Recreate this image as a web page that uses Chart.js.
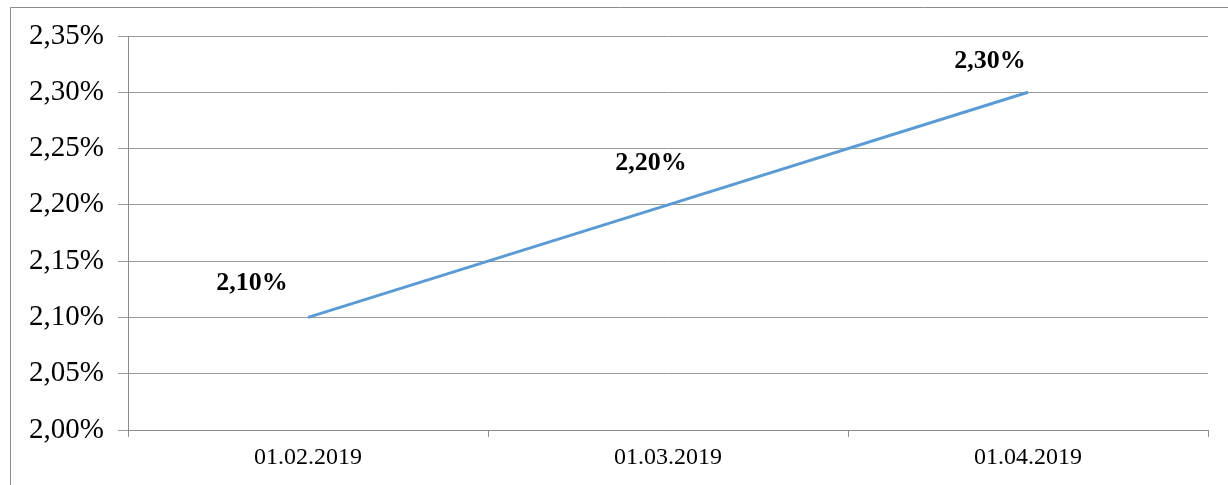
<!DOCTYPE html>
<html><head><meta charset="utf-8">
<script src="https://cdn.jsdelivr.net/npm/chart.js@4/dist/chart.umd.min.js"></script>
<style>html,body{margin:0;padding:0;background:#fff;}#wrap{width:1228px;height:485px;position:relative;}</style>
</head><body><div id="wrap"><canvas id="c" width="1228" height="485"></canvas></div>
<script>
const categories = ["01.02.2019", "01.03.2019", "01.04.2019"];
const values = [2.10, 2.20, 2.30];
const yTicks = [2.00, 2.05, 2.10, 2.15, 2.20, 2.25, 2.30, 2.35];

const fmt = v => v.toFixed(2).replace('.', ',') + '%';

const frame = {
  id: 'frame',
  beforeDraw(chart) {
    const ctx = chart.ctx;
    ctx.save();
    ctx.fillStyle = '#fff';
    ctx.fillRect(0, 0, chart.width, chart.height);
    ctx.strokeStyle = '#8c8c8c';
    ctx.lineWidth = 1;
    ctx.beginPath();
    ctx.moveTo(10.5, 485);
    ctx.lineTo(10.5, 7.5);
    ctx.lineTo(1228, 7.5);
    ctx.stroke();
    ctx.restore();
  }
};

const labelOffsets = [[-56, -34], [-17, -42], [-38, -31]];
const dataLabels = {
  id: 'dataLabels',
  afterDatasetsDraw(chart) {
    const ctx = chart.ctx;
    const meta = chart.getDatasetMeta(0);
    ctx.save();
    ctx.font = 'bold 26px "Liberation Serif", "Times New Roman", serif';
    ctx.fillStyle = '#000';
    ctx.textAlign = 'center';
    ctx.textBaseline = 'middle';
    meta.data.forEach((pt, i) => {
      const o = labelOffsets[i] || [-37, -36];
      ctx.fillText(fmt(values[i]), pt.x + o[0], pt.y + o[1]);
    });
    ctx.restore();
  }
};

new Chart(document.getElementById('c'), {
  type: 'line',
  data: {
    labels: categories,
    datasets: [{
      data: values,
      borderColor: '#5b9bd5',
      borderWidth: 3,
      pointRadius: 0,
      tension: 0,
      fill: false
    }]
  },
  options: {
    responsive: false,
    animation: false,
    devicePixelRatio: 1,
    layout: { padding: { left: 0, right: 20, top: 36, bottom: 0 } },
    plugins: { legend: { display: false }, tooltip: { enabled: false } },
    scales: {
      x: {
        type: 'category',
        offset: true,
        grid: { offset: true, drawOnChartArea: false, drawTicks: true, tickLength: 7, color: '#8c8c8c' },
        border: { color: '#8c8c8c', width: 1 },
        ticks: { color: '#000', font: { family: '"Liberation Serif", "Times New Roman", serif', size: 24 }, padding: 6, maxRotation: 0 },
        afterFit: s => { s.height = 55; }
      },
      y: {
        min: 2.0,
        max: 2.35,
        afterBuildTicks: s => { s.ticks = yTicks.map(v => ({ value: v })); },
        grid: { color: '#9a9a9a', tickLength: 10, lineWidth: 1 },
        border: { color: '#8c8c8c', width: 1 },
        ticks: {
          color: '#000',
          font: { family: '"Liberation Serif", "Times New Roman", serif', size: 29 },
          padding: 14,
          callback: v => fmt(v)
        },
        afterFit: s => { s.width = 128; }
      }
    }
  },
  plugins: [frame, dataLabels]
});
</script></body></html>
